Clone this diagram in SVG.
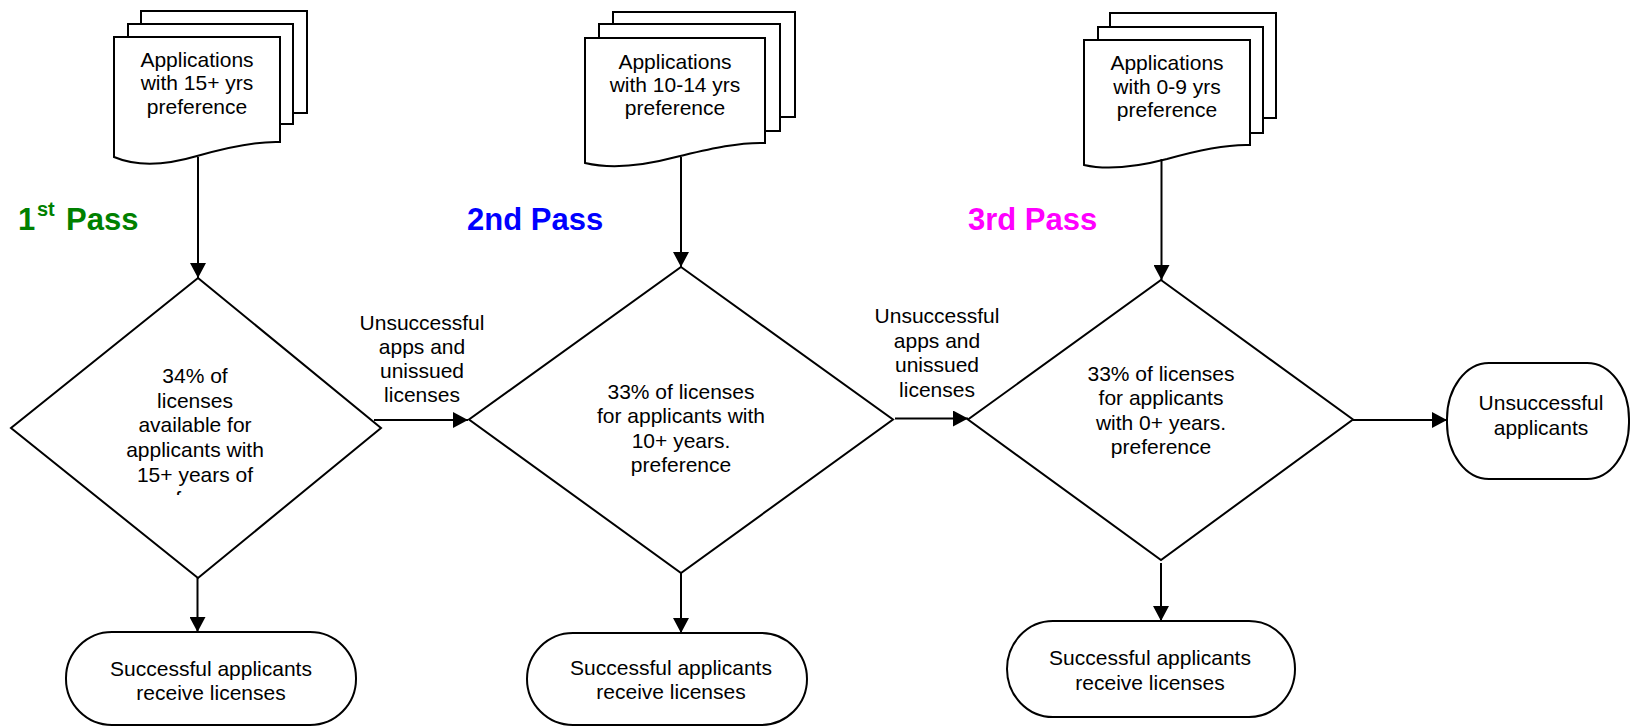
<svg xmlns="http://www.w3.org/2000/svg" width="1631" height="726" viewBox="0 0 1631 726">
<style>
.s{fill:#fff;stroke:#000;stroke-width:2}
.t{font-family:"Liberation Sans",Arial,sans-serif;font-size:21px;fill:#000;text-anchor:middle}
.p{font-family:"Liberation Sans",Arial,sans-serif;font-size:31px;font-weight:bold}
.c{fill:none;stroke:#000;stroke-width:2}
</style>
<defs>
<marker id="ah" viewBox="0 0 15 16" refX="15" refY="8" markerWidth="15" markerHeight="16" markerUnits="userSpaceOnUse" orient="auto">
<path d="M0,0 L15,8 L0,16 Z" fill="#000"/>
</marker>
<clipPath id="clipd1"><rect x="0" y="250" width="400" height="245"/></clipPath>
</defs>
<rect width="1631" height="726" fill="#fff"/>

<g id="labels">
<text class="p" fill="#008000"><tspan x="18" y="230">1</tspan><tspan x="37" y="216" font-size="20">st</tspan><tspan x="66" y="230">Pass</tspan></text>
<text class="p" fill="#0000ff" x="467" y="230">2nd Pass</text>
<text class="p" fill="#ff00ff" x="968" y="230">3rd Pass</text>
</g>

<g id="doc1">
<rect class="s" x="141" y="11" width="166" height="102"/>
<rect class="s" x="128" y="24" width="165" height="100"/>
<path class="s" d="M114,37 H280 V142 C254,141 225,148 197,156 C170,164 140,168 114,157 Z"/>
<text class="t"><tspan x="197" y="67">Applications</tspan><tspan x="197" y="90">with 15+ yrs</tspan><tspan x="197" y="113.5">preference</tspan></text>
</g>

<g id="doc2">
<rect class="s" x="613" y="12" width="182" height="105"/>
<rect class="s" x="599" y="24" width="181" height="107"/>
<path class="s" d="M585,38 H765 V143 C737,142 706,150 676,157 C646,165 615,170 585,163 Z"/>
<text class="t"><tspan x="675" y="68.5">Applications</tspan><tspan x="675" y="92">with 10-14 yrs</tspan><tspan x="675" y="115">preference</tspan></text>
</g>

<g id="doc3">
<rect class="s" x="1110" y="13" width="166" height="105"/>
<rect class="s" x="1098" y="27" width="165" height="106"/>
<path class="s" d="M1084,40 H1250 V145 C1224,144 1195,151 1167,159 C1140,166 1110,171 1084,165 Z"/>
<text class="t"><tspan x="1167" y="70">Applications</tspan><tspan x="1167" y="93.5">with 0-9 yrs</tspan><tspan x="1167" y="117">preference</tspan></text>
</g>

<g id="dec1">
<path class="s" d="M198,278 L381,428 L198,578 L11,428 Z"/>
<text class="t"><tspan x="195" y="383">34% of</tspan><tspan x="195" y="407.5">licenses</tspan><tspan x="195" y="432">available for</tspan><tspan x="195" y="456.5">applicants with</tspan><tspan x="195" y="481.5">15+ years of</tspan></text>
<text class="t" clip-path="url(#clipd1)" x="195" y="506">preference</text>
</g>

<g id="dec2">
<path class="s" d="M681,267 L893,419.5 L681,573 L469,419.5 Z"/>
<text class="t"><tspan x="681" y="398.5">33% of licenses</tspan><tspan x="681" y="423">for applicants with</tspan><tspan x="681" y="447.5">10+ years.</tspan><tspan x="681" y="472">preference</tspan></text>
</g>

<g id="dec3">
<path class="s" d="M1161,280 L1353,419.5 L1161,560 L968,419.5 Z"/>
<text class="t"><tspan x="1161" y="381">33% of licenses</tspan><tspan x="1161" y="405">for applicants</tspan><tspan x="1161" y="430">with 0+ years.</tspan><tspan x="1161" y="454">preference</tspan></text>
</g>

<g id="term1">
<rect class="s" x="66" y="632" width="290" height="93" rx="46" ry="46"/>
<text class="t"><tspan x="211" y="676">Successful applicants</tspan><tspan x="211" y="700">receive licenses</tspan></text>
</g>
<g id="term2">
<rect class="s" x="527" y="633" width="280" height="92" rx="46" ry="46"/>
<text class="t"><tspan x="671" y="674.5">Successful applicants</tspan><tspan x="671" y="699">receive licenses</tspan></text>
</g>
<g id="term3">
<rect class="s" x="1007" y="621" width="288" height="96" rx="46" ry="48"/>
<text class="t"><tspan x="1150" y="665">Successful applicants</tspan><tspan x="1150" y="689.5">receive licenses</tspan></text>
</g>
<g id="term4">
<rect class="s" x="1447" y="363" width="182" height="116" rx="42" ry="56"/>
<text class="t"><tspan x="1541" y="410">Unsuccessful</tspan><tspan x="1541" y="435">applicants</tspan></text>
</g>

<g id="connectors">
<path class="c" marker-end="url(#ah)" d="M198,157 V278"/>
<path class="c" marker-end="url(#ah)" d="M681,157 V267"/>
<path class="c" marker-end="url(#ah)" d="M1161.5,159 V280"/>
<path class="c" marker-end="url(#ah)" d="M197.5,578 V632"/>
<path class="c" marker-end="url(#ah)" d="M681,573 V633"/>
<path class="c" marker-end="url(#ah)" d="M1161,563 V621"/>
<path class="c" marker-end="url(#ah)" d="M374,420 H468"/>
<path class="c" marker-end="url(#ah)" d="M895,418.5 H968"/>
<path class="c" marker-end="url(#ah)" d="M1353,420 H1447"/>
<text class="t"><tspan x="422" y="330">Unsuccessful</tspan><tspan x="422" y="354">apps and</tspan><tspan x="422" y="378">unissued</tspan><tspan x="422" y="402">licenses</tspan></text>
<text class="t"><tspan x="937" y="323">Unsuccessful</tspan><tspan x="937" y="347.5">apps and</tspan><tspan x="937" y="372">unissued</tspan><tspan x="937" y="396.5">licenses</tspan></text>
</g>
</svg>
